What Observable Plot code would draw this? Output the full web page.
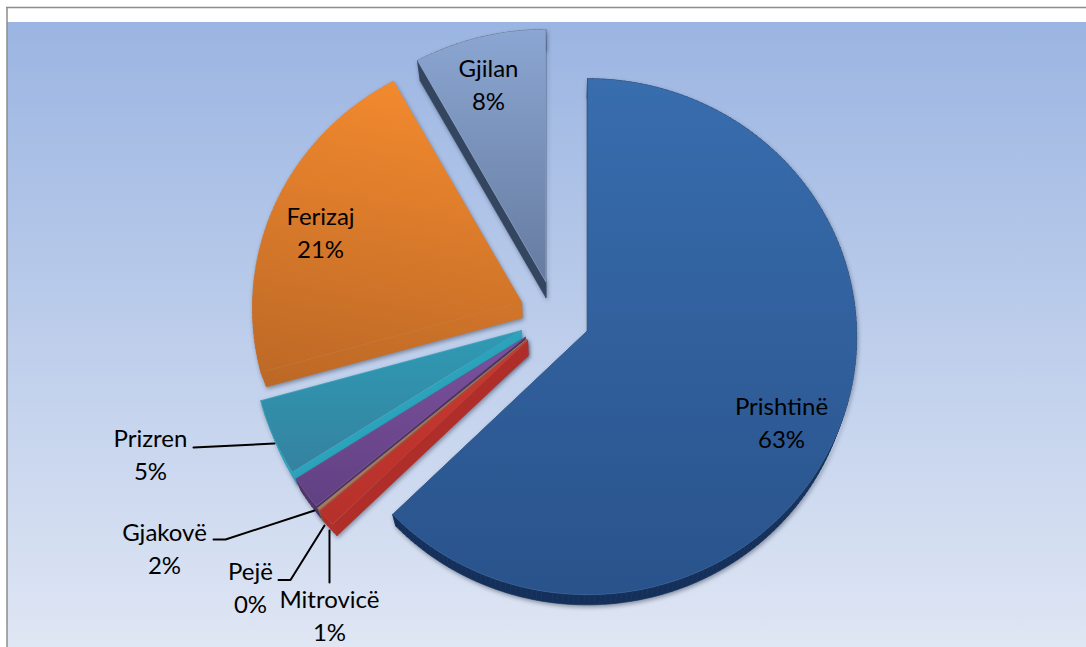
<!DOCTYPE html>
<html>
<head>
<meta charset="utf-8">
<style>
html,body{margin:0;padding:0;background:#fff;}
svg{display:block;}
.soft{filter:drop-shadow(1px 2px 2px rgba(30,40,60,.45));}
</style>
<script src="https://cdn.jsdelivr.net/npm/d3@7"></script>
<script src="https://cdn.jsdelivr.net/npm/@observablehq/plot@0.6"></script>
</head>
<body>
<script>
// --- data ---
const names   = ["Prishtinë","Mitrovicë","Pejë","Gjakovë","Prizren","Ferizaj","Gjilan"];
const shares  = [62.9, 1.1, 0.15, 2.05, 4.8, 21.1, 7.9];
const pctText = ["63%","1%","0%","2%","5%","21%","8%"];

// --- style per slice: gradient top, gradient bottom, gradient slant, side, edge ---
const topColors  = ["#386DAE","#C8392F","#A87A5E","#7C519E","#2F9AB4","#F0882E","#8AA6D2"];
const botColors  = ["#29528A","#B5302B","#A87A5E","#5F3F80","#35809E","#BC6826","#65799D"];
const gradSlant  = [0,0,0,0,0,-60,0];
const sideColors = ["#14305A","#B02E2A","#8A6048","#4E3369","#2CA3BC",null,"#33455F"];
const edgeColors = ["#3F6CA5","#B9504A","#A87A5E","#7C6098","#4BA6BC","#C9975F","#A5B8D8"];

// --- pie geometry (the layout, in the pixel-valued scales) ---
const W = 1086, H = 647;
const centre = {x: 554, y: 316};
const explode = 36, rx = 269, ry = 258, tiltY = 6;
const vanish = {x: 561, y: 1130}, depth = 0.019;

const drawOrder = ["Gjilan","Ferizaj","Prizren","Gjakovë","Pejë","Mitrovicë","Prishtinë"];

// --- label layout ---
const labelLayout = [
  {name:"Prishtinë", x:781, y:420},
  {name:"Gjilan",    x:488, y:82},
  {name:"Ferizaj",   x:320, y:230},
  {name:"Prizren",   x:150, y:452},
  {name:"Gjakovë",   x:164, y:546},
  {name:"Pejë",      x:250, y:585},
  {name:"Mitrovicë", x:329, y:613}
];
const leaderLines = [
  [[193,447],[274,443]],
  [[213,539],[225,539],[314,510]],
  [[278,579.5],[290,579.5],[324,525]],
  [[329,582],[329,530]]
];

// --- build slices from the shares ---
const total = d3.sum(shares);
let cum = 0;
const slices = names.map((name,i) => {
  const a0 = cum/total*2*Math.PI;
  cum += shares[i];
  const a1 = cum/total*2*Math.PI;
  const mid = (a0+a1)/2;
  const ax = centre.x + explode*Math.sin(mid);
  const ay = centre.y - explode*Math.cos(mid);
  const pts = [[ax,ay]];
  const n = Math.max(2, Math.ceil((a1-a0)/0.02));
  for (let k=0;k<=n;k++){
    const a = a0+(a1-a0)*k/n;
    pts.push([ax+rx*Math.sin(a), ay+tiltY-ry*Math.cos(a)]);
  }
  pts.push([ax,ay]);
  return {name,i,pts};
});
const extrude = p => [p[0]+(vanish.x-p[0])*depth, p[1]+(vanish.y-p[1])*depth];

// the side of a slice: one quad per outline segment, swept to the extruded outline
const sideQuads = pts => d3.pairs(pts).flatMap(([p,q],k) => {
  const id = k;
  return [p,q,extrude(q),extrude(p),p].map(c => ({x:c[0],y:c[1],id}));
});

const defs = () => {
  const s = d3.create("svg:defs");
  const grad = (id,c0,c1,box) => {
    const g = s.append("linearGradient").attr("id",id).attr("gradientUnits","userSpaceOnUse")
      .attr("x1",box[0]).attr("y1",box[1]).attr("x2",box[2]).attr("y2",box[3]);
    g.append("stop").attr("offset","0%").attr("stop-color",c0);
    g.append("stop").attr("offset","100%").attr("stop-color",c1);
  };
  grad("bg","#9BB5E2","#DFE6F4",[0,22,0,H]);
  slices.forEach(sl => {
    const [y0,y1] = d3.extent(sl.pts, p => p[1]);
    const xm = d3.mean(sl.pts, p => p[0]);
    const slant = gradSlant[sl.i];
    grad("g"+sl.i, topColors[sl.i], botColors[sl.i], [xm-slant/2, y0, xm+slant/2, y1+12]);
  });
  return s.node();
};

const sliceMarks = drawOrder.flatMap(nm => {
  const sl = slices.find(s=>s.name===nm);
  const side = sideColors[sl.i] ?? `url(#g${sl.i})`;
  return [
    Plot.line(sideQuads(sl.pts),{x:"x",y:"y",z:"id",fill:side,stroke:side,strokeWidth:0.6,className:"soft",curve:"linear"}),
    Plot.line(sl.pts,{x:d=>d[0],y:d=>d[1],fill:`url(#g${sl.i})`,stroke:sideColors[sl.i] ? edgeColors[sl.i] : "none",strokeWidth:0.8,strokeOpacity:0.6,curve:"linear"})
  ];
});

const labels = labelLayout.map(l => {
  const i = names.indexOf(l.name);
  return {...l, text:`${names[i]}\n${pctText[i]}`};
});

const chart = Plot.plot({
  width:W, height:H, margin:0,
  style:{background:"#fff",fontFamily:"Lato, sans-serif",overflow:"hidden"},
  x:{domain:[0,W],range:[0,W],axis:null},
  y:{domain:[0,H],range:[0,H],axis:null},
  marks:[
    defs,
    Plot.rect([{}],{x1:7,x2:W,y1:22,y2:H,fill:"url(#bg)"}),
    Plot.ruleY([7],{x1:6,x2:W,stroke:"#8c8c8c",strokeWidth:1.5}),
    Plot.ruleX([6.5],{y1:7,y2:H,stroke:"#8c8c8c",strokeWidth:1.5}),
    ...sliceMarks,
    ...leaderLines.map(l=>Plot.line(l,{x:d=>d[0],y:d=>d[1],stroke:"#000",strokeWidth:2,curve:"linear"})),
    Plot.text(labels,{x:"x",y:"y",text:"text",fontSize:24,lineHeight:1.375,fill:"#000",textAnchor:"middle"})
  ]
});
document.body.appendChild(chart);
</script>
</body>
</html>
